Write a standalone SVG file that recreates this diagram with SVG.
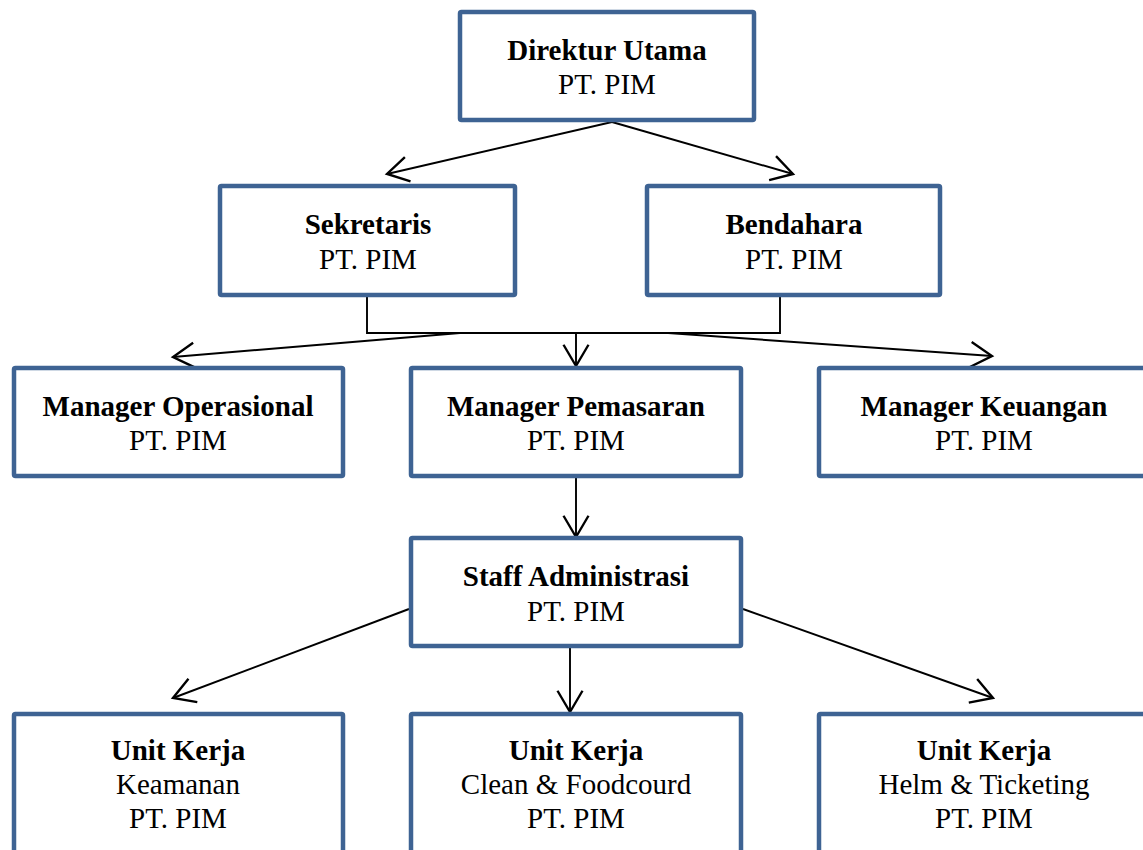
<svg xmlns="http://www.w3.org/2000/svg" width="1143" height="850" viewBox="0 0 1143 850">
<defs>
<style>
.box{fill:#ffffff;stroke:#3e6393;stroke-width:4.5}
.t{font-family:"Times New Roman","Liberation Serif",Times,serif;font-size:29px;fill:#000;text-anchor:middle;font-weight:normal}
.b{font-weight:bold}
.c{fill:none;stroke:#000;stroke-width:1.9}
</style>
<marker id="arr" markerUnits="userSpaceOnUse" markerWidth="30" markerHeight="30" viewBox="-20 -12 24 24" refX="0" refY="0" orient="auto">
<path d="M-17,-10 L0,0 L-17,10" fill="none" stroke="#000" stroke-width="1.9"/>
</marker>
</defs>
<rect width="1143" height="850" fill="#ffffff"/>
<g id="connectors">
<path class="c" d="M612,122 L387,174" marker-end="url(#arr)"/>
<path class="c" d="M612,122 L793,174" marker-end="url(#arr)"/>
<path class="c" d="M367,296 L367,333 L780,333 L780,296"/>
<path class="c" d="M460,333 L173,357" marker-end="url(#arr)"/>
<path class="c" d="M576,333 L576,366" marker-end="url(#arr)"/>
<path class="c" d="M668,333 L992,356" marker-end="url(#arr)"/>
<path class="c" d="M576,478 L576,537" marker-end="url(#arr)"/>
<path class="c" d="M409,609 L173,698" marker-end="url(#arr)"/>
<path class="c" d="M570,648 L570,712" marker-end="url(#arr)"/>
<path class="c" d="M743,609 L993,698" marker-end="url(#arr)"/>
</g>
<g id="direktur">
<rect class="box" x="460" y="12" width="294" height="108" rx="1.5"/>
<text class="t b" x="607" y="60">Direktur Utama</text>
<text class="t" x="607" y="94">PT. PIM</text>
</g>
<g id="sekretaris">
<rect class="box" x="220" y="186" width="295" height="109" rx="1.5"/>
<text class="t b" x="368" y="234">Sekretaris</text>
<text class="t" x="368" y="269">PT. PIM</text>
</g>
<g id="bendahara">
<rect class="box" x="647" y="186" width="293" height="109" rx="1.5"/>
<text class="t b" x="794" y="234">Bendahara</text>
<text class="t" x="794" y="269">PT. PIM</text>
</g>
<g id="manager-operasional">
<rect class="box" x="14" y="368" width="329" height="108" rx="1.5"/>
<text class="t b" x="178" y="416">Manager Operasional</text>
<text class="t" x="178" y="450">PT. PIM</text>
</g>
<g id="manager-pemasaran">
<rect class="box" x="411" y="368" width="330" height="108" rx="1.5"/>
<text class="t b" x="576" y="416">Manager Pemasaran</text>
<text class="t" x="576" y="450">PT. PIM</text>
</g>
<g id="manager-keuangan">
<rect class="box" x="819" y="368" width="330" height="108" rx="1.5"/>
<text class="t b" x="984" y="416">Manager Keuangan</text>
<text class="t" x="984" y="450">PT. PIM</text>
</g>
<g id="staff-administrasi">
<rect class="box" x="411" y="538" width="330" height="108" rx="1.5"/>
<text class="t b" x="576" y="586">Staff Administrasi</text>
<text class="t" x="576" y="621">PT. PIM</text>
</g>
<g id="unit-keamanan">
<rect class="box" x="14" y="714" width="329" height="160" rx="1.5"/>
<text class="t b" x="178" y="760">Unit Kerja</text>
<text class="t" x="178" y="794">Keamanan</text>
<text class="t" x="178" y="828">PT. PIM</text>
</g>
<g id="unit-clean">
<rect class="box" x="411" y="714" width="330" height="160" rx="1.5"/>
<text class="t b" x="576" y="760">Unit Kerja</text>
<text class="t" x="576" y="794">Clean &amp; Foodcourd</text>
<text class="t" x="576" y="828">PT. PIM</text>
</g>
<g id="unit-helm">
<rect class="box" x="819" y="714" width="330" height="160" rx="1.5"/>
<text class="t b" x="984" y="760">Unit Kerja</text>
<text class="t" x="984" y="794">Helm &amp; Ticketing</text>
<text class="t" x="984" y="828">PT. PIM</text>
</g>
</svg>
